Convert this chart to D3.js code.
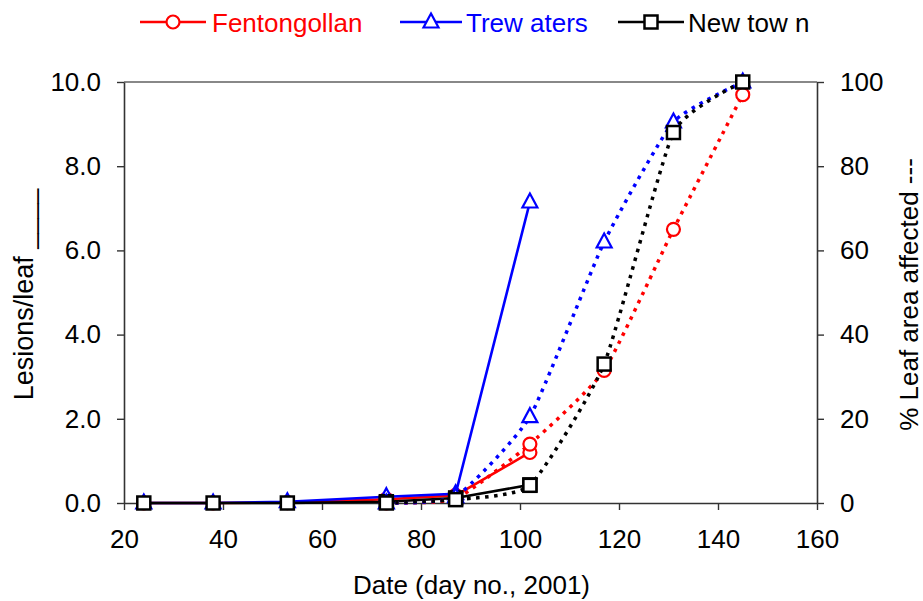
<!DOCTYPE html>
<html>
<head>
<meta charset="utf-8">
<script src="https://cdn.jsdelivr.net/npm/d3@7"></script>
<style>
  html, body { margin: 0; padding: 0; background: #fff; }
  svg text { font-family: "Liberation Sans", Arial, sans-serif; }
</style>
</head>
<body>
<svg id="chart" width="923" height="601"></svg>
<script>
// Sampling dates (day number, 2001)
const lesionDays = [24, 38, 53, 73, 87, 102];
const areaDays = [73, 87, 102, 117, 131, 145];

// Lesions per leaf (solid lines, left axis)
const fentLesions = [0, 0, 0.01, 0.09, 0.18, 1.2];
const trewLesions = [0, 0, 0.03, 0.15, 0.22, 7.15];
const newtLesions = [0, 0, 0, 0.03, 0.12, 0.43];

// % leaf area affected (dotted lines, right axis)
const fentArea = [0, 1, 14, 31.5, 65, 97];
const trewArea = [0, 1.5, 20.5, 62, 90.5, 100];
const newtArea = [0, 0.8, 4.2, 33, 88, 100];

const siteNames = ["Fentongollan", "Trew aters", "New tow n"];
const siteColors = ["#ff0000", "#0000ff", "#000000"];
const siteMarkers = ["circle", "triangle", "square"];

const xTicks = [20, 40, 60, 80, 100, 120, 140, 160];
const yLeftTicks = [0, 2, 4, 6, 8, 10];
const yRightTicks = [0, 20, 40, 60, 80, 100];

const svg = d3.select("#chart");
const plot = { left: 124, right: 817, top: 82, bottom: 503 };

const x = d3.scaleLinear().domain([20, 160]).range([plot.left, plot.right]);
const yL = d3.scaleLinear().domain([0, 10]).range([plot.bottom, plot.top]);
const yR = d3.scaleLinear().domain([0, 100]).range([plot.bottom, plot.top]);

const tickFont = "26px";
const axisColor = "#333";

// top frame line
svg.append("line")
  .attr("x1", plot.left).attr("x2", plot.right)
  .attr("y1", plot.top).attr("y2", plot.top)
  .attr("stroke", "#888").attr("stroke-width", 2);

// x axis
const gx = svg.append("g").attr("transform", `translate(0,${plot.bottom})`)
  .call(d3.axisBottom(x).tickValues(xTicks).tickSize(7).tickSizeOuter(0).tickPadding(20).tickFormat(d3.format("d")));
// left axis
const gl = svg.append("g").attr("transform", `translate(${plot.left},0)`)
  .call(d3.axisLeft(yL).tickValues(yLeftTicks).tickSize(7).tickSizeOuter(0).tickPadding(16).tickFormat(d3.format(".1f")));
// right axis
const gr = svg.append("g").attr("transform", `translate(${plot.right},0)`)
  .call(d3.axisRight(yR).tickValues(yRightTicks).tickSize(7).tickSizeOuter(0).tickPadding(16).tickFormat(d3.format("d")));

[gx, gl, gr].forEach(g => {
  g.select(".domain").attr("stroke", axisColor).attr("stroke-width", 1.6);
  g.selectAll(".tick line").attr("stroke", axisColor).attr("stroke-width", 1.4);
  g.selectAll(".tick text").attr("fill", "#000").style("font-size", tickFont)
    .style("font-family", '"Liberation Sans", Arial, sans-serif');
});

// axis titles
svg.append("text")
  .attr("x", (x(20) + x(160)) / 2 + 1).attr("y", 594)
  .attr("text-anchor", "middle").style("font-size", "26px")
  .text("Date (day no., 2001)");

svg.append("text")
  .attr("transform", `translate(33,${(plot.top + plot.bottom) / 2 + 2}) rotate(-90)`)
  .attr("text-anchor", "middle").style("font-size", "27px")
  .text("Lesions/leaf ____");

svg.append("text")
  .attr("transform", `translate(918,${(plot.top + plot.bottom) / 2 + 2}) rotate(-90)`)
  .attr("text-anchor", "middle").style("font-size", "26px")
  .text("% Leaf area affected ---");

// marker shapes
function drawMarker(g, type, cx, cy, color) {
  if (type === "circle") {
    g.append("circle").attr("cx", cx).attr("cy", cy).attr("r", 6.5)
      .attr("fill", "#fff").attr("stroke", color).attr("stroke-width", 2.2);
  } else if (type === "triangle") {
    g.append("path")
      .attr("d", `M${cx},${cy - 8.5}L${cx + 7.5},${cy + 5.5}L${cx - 7.5},${cy + 5.5}Z`)
      .attr("fill", "#fff").attr("stroke", color).attr("stroke-width", 2.2)
      .attr("stroke-linejoin", "miter");
  } else {
    g.append("rect").attr("x", cx - 6.5).attr("y", cy - 6.5)
      .attr("width", 13).attr("height", 13)
      .attr("fill", "#fff").attr("stroke", color).attr("stroke-width", 2.5);
  }
}

const solidLine = d3.line().x(d => x(d[0])).y(d => yL(d[1]));
const dottedLine = d3.line().x(d => x(d[0])).y(d => yR(d[1])).curve(d3.curveCardinal.tension(0.5));

const lesionSeries = [fentLesions, trewLesions, newtLesions];
const areaSeries = [fentArea, trewArea, newtArea];

const gData = svg.append("g");

// solid series: lesions per leaf
lesionSeries.forEach((vals, i) => {
  const pts = lesionDays.map((d, j) => [d, vals[j]]);
  const g = gData.append("g");
  g.append("path").attr("d", solidLine(pts)).attr("fill", "none")
    .attr("stroke", siteColors[i]).attr("stroke-width", 2.6);
  pts.forEach(p => drawMarker(g, siteMarkers[i], x(p[0]), yL(p[1]), siteColors[i]));
});

// dotted series: % leaf area affected
areaSeries.forEach((vals, i) => {
  const pts = areaDays.map((d, j) => [d, vals[j]]);
  const g = gData.append("g");
  g.append("path").attr("d", dottedLine(pts)).attr("fill", "none")
    .attr("stroke", siteColors[i]).attr("stroke-width", 3.5)
    .attr("stroke-dasharray", "3.5,5.5");
  pts.forEach(p => drawMarker(g, siteMarkers[i], x(p[0]), yR(p[1]), siteColors[i]));
});

// legend
const legendItems = [
  { x0: 140, x1: 206, tx: 212 },
  { x0: 400, x1: 462, tx: 466 },
  { x0: 618, x1: 684, tx: 688 }
];
const legendY = 22;
legendItems.forEach((it, i) => {
  const g = svg.append("g");
  g.append("line").attr("x1", it.x0).attr("x2", it.x1)
    .attr("y1", legendY).attr("y2", legendY)
    .attr("stroke", siteColors[i]).attr("stroke-width", 2.6);
  drawMarker(g, siteMarkers[i], (it.x0 + it.x1) / 2, legendY, siteColors[i]);
  g.append("text").attr("x", it.tx).attr("y", legendY + 10)
    .attr("fill", siteColors[i]).style("font-size", "26px")
    .text(siteNames[i]);
});
</script>
</body>
</html>
